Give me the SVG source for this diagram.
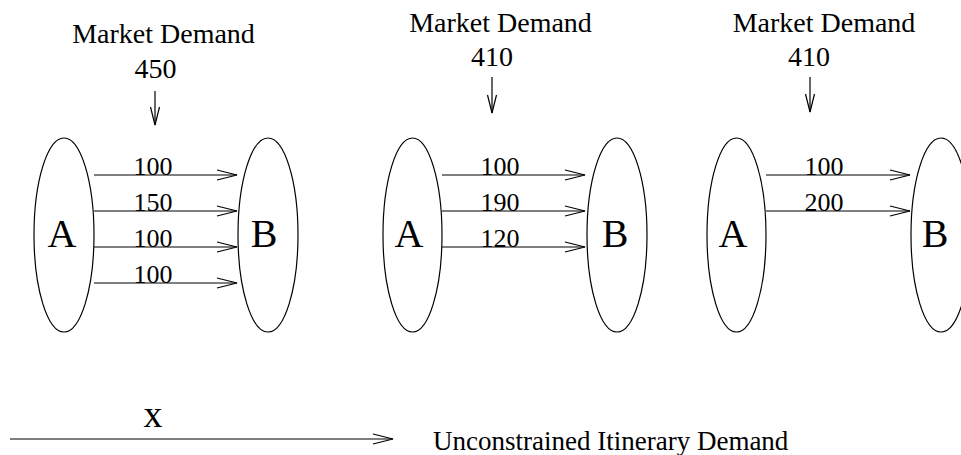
<svg xmlns="http://www.w3.org/2000/svg" width="961" height="455" viewBox="0 0 961 455">
<style>
text{font-family:"Liberation Serif","Times New Roman",serif;fill:#000}
.t{font-size:28px;text-anchor:middle}
.n{font-size:26px;text-anchor:middle}
.big{font-size:40px;text-anchor:middle}
ellipse{fill:none;stroke:#000;stroke-width:1.2}
line{stroke:#000;stroke-width:1.2}
</style>
<defs>
<marker id="ah" markerUnits="userSpaceOnUse" markerWidth="22" markerHeight="12" refX="20" refY="5" orient="auto" overflow="visible">
<path d="M0,0 L20,5 L0,10" fill="none" stroke="#000" stroke-width="1.2"/>
</marker>
<marker id="ahs" markerUnits="userSpaceOnUse" markerWidth="20" markerHeight="12" refX="18" refY="4.5" orient="auto" overflow="visible">
<path d="M0,0 L18,4.5 L0,9" fill="none" stroke="#000" stroke-width="1.2"/>
</marker>
</defs>
<rect width="961" height="455" fill="#fff"/>

<g id="panel1-demand">
<text class="t" x="163.5" y="43">Market Demand</text>
<text class="t" x="155.5" y="78">450</text>
</g>
<g id="panel2-demand">
<text class="t" x="500.5" y="32">Market Demand</text>
<text class="t" x="492" y="66">410</text>
</g>
<g id="panel3-demand">
<text class="t" x="824" y="32">Market Demand</text>
<text class="t" x="809" y="66">410</text>
</g>

<g id="p1-A"><ellipse cx="64" cy="235" rx="30" ry="97"/><text class="big" x="62" y="247">A</text></g>
<g id="p1-B"><ellipse cx="268" cy="235" rx="30" ry="97"/><text class="big" x="264" y="247">B</text></g>
<g id="p2-A"><ellipse cx="412.5" cy="235" rx="29.5" ry="97"/><text class="big" x="409" y="247">A</text></g>
<g id="p2-B"><ellipse cx="617" cy="235" rx="30" ry="97"/><text class="big" x="615" y="247">B</text></g>
<g id="p3-A"><ellipse cx="736.5" cy="235" rx="29.5" ry="97"/><text class="big" x="733" y="247">A</text></g>
<g id="p3-B"><ellipse cx="941" cy="235" rx="30" ry="97"/><text class="big" x="935" y="247">B</text></g>

<g id="connectors">
<line x1="155" y1="91" x2="155" y2="125" marker-end="url(#ahs)"/>
<line x1="492" y1="77" x2="492" y2="113" marker-end="url(#ahs)"/>
<line x1="810" y1="77" x2="810" y2="112" marker-end="url(#ahs)"/>

<line x1="94" y1="175" x2="237" y2="175" marker-end="url(#ah)"/>
<line x1="94" y1="211" x2="237" y2="211" marker-end="url(#ah)"/>
<line x1="94" y1="247" x2="237" y2="247" marker-end="url(#ah)"/>
<line x1="94" y1="283" x2="237" y2="283" marker-end="url(#ah)"/>
<text class="n" x="153" y="175">100</text>
<text class="n" x="153" y="211">150</text>
<text class="n" x="153" y="247">100</text>
<text class="n" x="153" y="283">100</text>

<line x1="442" y1="175" x2="585" y2="175" marker-end="url(#ah)"/>
<line x1="442" y1="211" x2="585" y2="211" marker-end="url(#ah)"/>
<line x1="442" y1="247" x2="585" y2="247" marker-end="url(#ah)"/>
<text class="n" x="500" y="175">100</text>
<text class="n" x="500" y="211">190</text>
<text class="n" x="500" y="247">120</text>

<line x1="766" y1="175" x2="910" y2="175" marker-end="url(#ah)"/>
<line x1="766" y1="211" x2="910" y2="211" marker-end="url(#ah)"/>
<text class="n" x="824" y="175">100</text>
<text class="n" x="824" y="211">200</text>

<line x1="10" y1="439" x2="393" y2="439" marker-end="url(#ah)"/>
</g>
<g id="legend">
<text x="153" y="427" style="font-size:38px;text-anchor:middle">x</text>
<text x="433" y="450" style="font-size:27px">Unconstrained Itinerary Demand</text>
</g>
</svg>
